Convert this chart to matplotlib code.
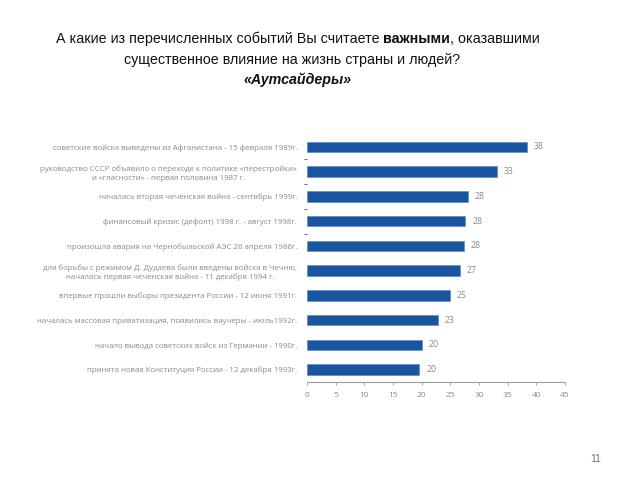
import matplotlib
matplotlib.use("Agg")
import matplotlib.pyplot as plt

# данные "Аутсайдеры"
events = [
    "советские войска выведены из Афганистана - 15 февраля 1989г.",
    "руководство СССР объявило о переходе к политике «перестройки»\nи «гласности» - первая половина 1987 г.",
    "началась вторая чеченская война - сентябрь 1999г.",
    "финансовый кризис (дефолт) 1998 г. - август 1998г.",
    "произошла авария на Чернобыльской АЭС 26 апреля 1986г.",
    "для борьбы с режимом Д. Дудаева были введены войска в Чечню,\nначалась первая чеченская война - 11 декабря 1994 г.",
    "впервые прошли выборы президента России - 12 июня 1991г.",
    "началась массовая приватизация, появились ваучеры - июль1992г.",
    "начало вывода советских войск из Германии - 1990г.",
    "принята новая Конституция России - 12 декабря 1993г.",
]
values = [38.3, 33.1, 28.0, 27.6, 27.4, 26.6, 24.9, 22.8, 20.0, 19.6]
value_labels = ["38", "33", "28", "28", "28", "27", "25", "23", "20", "20"]
x_ticks = [0, 5, 10, 15, 20, 25, 30, 35, 40, 45]

bar_color = "#1a56a0"
grey = "#8a8a8a"

fig = plt.figure(figsize=(6.4, 4.8), dpi=100)
fig.patch.set_facecolor("white")
ax = fig.add_axes([307 / 640, 1 - 382 / 480, (565 - 307) / 640, (382 - 134.5) / 480])

ypos = list(range(len(events)))
ax.barh(ypos, values, height=0.42, color=bar_color, edgecolor="#4f86c6", linewidth=0.4)
ax.set_ylim(len(events) - 0.5, -0.5)
ax.set_xlim(0, 45)

ax.set_yticks(ypos)
ax.set_yticklabels(events, fontsize=5.7, color=grey, family="Open Sans", linespacing=1.35)
for t in ax.get_yticklabels():
    t.set_multialignment("center")
ax.tick_params(axis="y", length=0, pad=7)
# короткие чёрточки между верхними категориями
ax.set_yticks([0.5, 1.5, 2.5, 3.5], minor=True)
ax.tick_params(axis="y", which="minor", length=2.5, width=0.6, color="#555555", direction="out")

ax.set_xticks(x_ticks)
ax.set_xticklabels([str(v) for v in x_ticks], fontsize=6, color=grey, family="Open Sans")
ax.tick_params(axis="x", length=2.5, width=0.6, color="#9a9a9a", pad=5)

for s in ["top", "right", "left"]:
    ax.spines[s].set_visible(False)
ax.spines["bottom"].set_color("#9a9a9a")
ax.spines["bottom"].set_linewidth(0.8)

for y, v, lbl in zip(ypos, values, value_labels):
    ax.annotate(lbl, (v, y), xytext=(5, 0), textcoords="offset points",
                va="center", ha="left", fontsize=6.3, color=grey, family="Open Sans")

# заголовок: строка с выделенным словом
fs = 10.3
parts = [("А какие из перечисленных событий Вы считаете ", "normal"),
         ("важными", "bold"),
         (", оказавшими", "normal")]
renderer = fig.canvas.get_renderer()
texts = []
for s, w in parts:
    t = fig.text(0, 0, s, fontsize=fs, fontweight=w, family="Liberation Sans",
                 va="center", ha="left", color="#111111")
    texts.append(t)
widths = [t.get_window_extent(renderer).width for t in texts]
total = sum(widths)
x0 = 298 - total / 2
y1 = 1 - 39 / 480
for t, w in zip(texts, widths):
    t.set_position((x0 / 640, y1))
    x0 += w

fig.text(292 / 640, 1 - 60 / 480, "существенное влияние на жизнь страны и людей?",
         fontsize=fs, family="Liberation Sans", ha="center", va="center", color="#111111")
fig.text(298 / 640, 1 - 80 / 480, "«Аутсайдеры»", fontsize=fs, family="Liberation Sans",
         fontweight="bold", fontstyle="italic", ha="center", va="center", color="#111111")

fig.text(596 / 640, 1 - 459 / 480, "11", fontsize=7.5, color="#777777",
         family="Liberation Sans", ha="center", va="center")

fig.savefig("out.png", dpi=100)
